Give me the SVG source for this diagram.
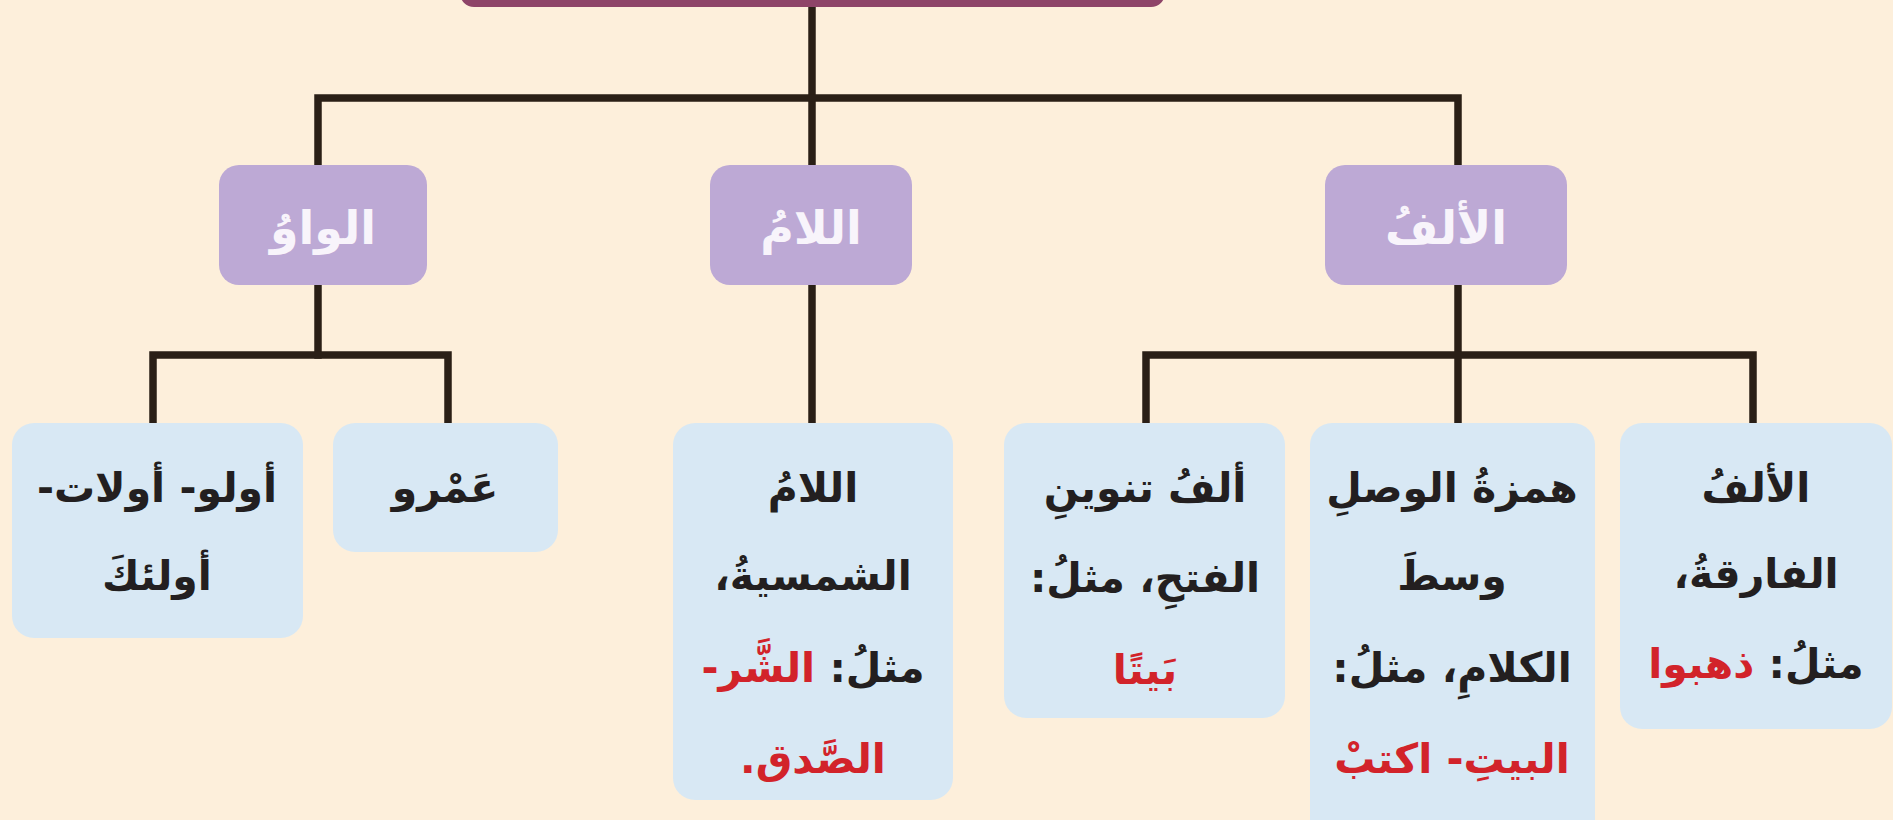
<svg xmlns="http://www.w3.org/2000/svg" width="1893" height="820" viewBox="0 0 1893 820">
<style>
.bg{fill:#fdefdb}
.top{fill:#8e4468}
.cat{fill:#bda9d5}
.leaf{fill:#d8e8f4}
.conn{fill:none;stroke:#2a1f16;stroke-width:7.5;stroke-linecap:square;stroke-linejoin:miter}
text{font-family:"DejaVu Sans","Noto Sans",sans-serif;font-weight:bold;text-anchor:middle}
.ct{fill:#f8f4fb;font-size:46px}
.lt{fill:#231f20;font-size:41px}
.red{fill:#d2232a}
</style>
<rect class="bg" x="0" y="0" width="1893" height="820"/>
<g id="connectors">
<path class="conn" d="M812,7 V165"/>
<path class="conn" d="M318,165 V98 H1458 V165"/>
<path class="conn" d="M318,285 V355"/>
<path class="conn" d="M153,423 V355 H448 V423"/>
<path class="conn" d="M812,285 V423"/>
<path class="conn" d="M1458,285 V423"/>
<path class="conn" d="M1146,423 V355 H1753 V423"/>
</g>
<g id="node-root">
<rect class="top" x="460" y="-30" width="705" height="37" rx="14"/>
</g>
<g id="node-waw">
<rect class="cat" x="219" y="165" width="208" height="120" rx="20"/>
<text class="ct" x="323" y="244" direction="rtl">الواوُ</text>
</g>
<g id="node-lam">
<rect class="cat" x="710" y="165" width="202" height="120" rx="20"/>
<text class="ct" x="811" y="244" direction="rtl">اللامُ</text>
</g>
<g id="node-alif">
<rect class="cat" x="1325" y="165" width="242" height="120" rx="20"/>
<text class="ct" x="1446" y="244" direction="rtl">الألفُ</text>
</g>
<g id="node-ulu">
<rect class="leaf" x="12" y="423" width="291" height="215" rx="22"/>
<text class="lt" x="157" y="502" direction="rtl">أولو- أولات-</text>
<text class="lt" x="157" y="590" direction="rtl">أولئكَ</text>
</g>
<g id="node-amr">
<rect class="leaf" x="333" y="423" width="225" height="129" rx="22"/>
<text class="lt" x="445" y="502" direction="rtl">عَمْرو</text>
</g>
<g id="node-shamsiya">
<rect class="leaf" x="673" y="423" width="280" height="377" rx="22"/>
<text class="lt" x="813" y="502" direction="rtl">اللامُ</text>
<text class="lt" x="813" y="590" direction="rtl">الشمسيةُ،</text>
<text class="lt" x="813" y="682" direction="rtl"><tspan>مثلُ: </tspan><tspan class="red">الشَّر-</tspan></text>
<text class="lt red" x="813" y="773" direction="rtl">الصَّدق.</text>
</g>
<g id="node-tanwin">
<rect class="leaf" x="1004" y="423" width="281" height="295" rx="22"/>
<text class="lt" x="1145" y="502" direction="rtl">ألفُ تنوينِ</text>
<text class="lt" x="1145" y="592" direction="rtl">الفتحِ، مثلُ:</text>
<text class="lt red" x="1145" y="684" direction="rtl">بَيتًا</text>
</g>
<g id="node-wasl">
<rect class="leaf" x="1310" y="423" width="285" height="420" rx="22"/>
<text class="lt" x="1452" y="502" direction="rtl">همزةُ الوصلِ</text>
<text class="lt" x="1452" y="590" direction="rtl">وسطَ</text>
<text class="lt" x="1452" y="682" direction="rtl">الكلامِ، مثلُ:</text>
<text class="lt red" x="1452" y="773" direction="rtl">البيتِ- اكتبْ</text>
</g>
<g id="node-fariqa">
<rect class="leaf" x="1620" y="423" width="272" height="306" rx="22"/>
<text class="lt" x="1756" y="502" direction="rtl">الألفُ</text>
<text class="lt" x="1756" y="588" direction="rtl">الفارقةُ،</text>
<text class="lt" x="1756" y="678" direction="rtl"><tspan>مثلُ: </tspan><tspan class="red">ذهبوا</tspan></text>
</g>
</svg>
